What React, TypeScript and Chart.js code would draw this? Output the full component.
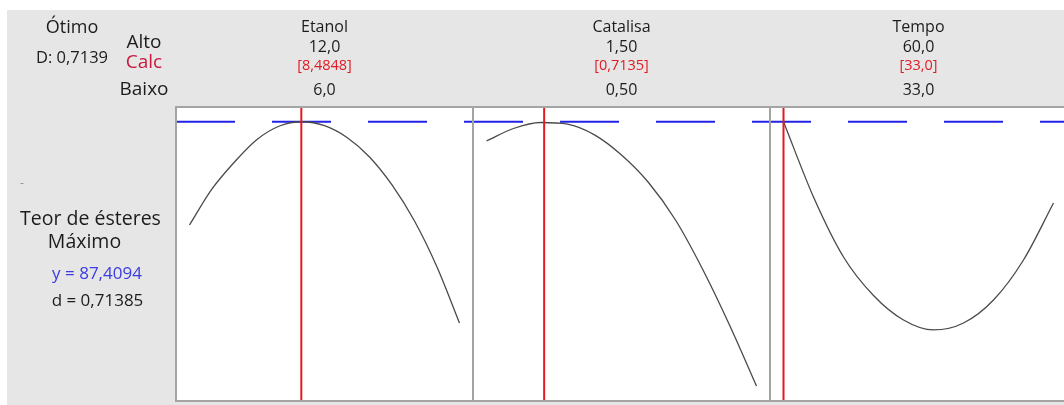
import { useEffect, useRef } from "react";
import { Chart, registerables } from "chart.js";

Chart.register(...registerables);

// Factor headers (high / optimal / low settings)
const factorNames = ["Etanol", "Catalisa", "Tempo"];
const highLabels = ["12,0", "1,50", "60,0"];
const calcLabels = ["[8,4848]", "[0,7135]", "[33,0]"];
const lowLabels = ["6,0", "0,50", "33,0"];
const factorLow = [6, 0.5, 33];
const factorHigh = [12, 1.5, 60];
const optimalSettings = [8.4848, 0.7135, 33.0];

// Predicted response along each factor, others held at their optimal setting
const etanolX = [6.0, 6.5, 7.0, 7.5, 8.0, 8.5, 9.0, 9.5, 10.0, 10.5, 11.0, 11.5, 12.0];
const etanolY = [68.82, 75.3, 80.16, 84.21, 86.64, 87.4, 86.69, 84.57, 81.06, 76.02, 69.54, 61.26, 51.17];

const catalisaX = [0.5, 0.6, 0.7, 0.8, 0.9, 1.0, 1.1, 1.2, 1.3, 1.4, 1.5];
const catalisaY = [83.94, 86.19, 87.27, 86.99, 85.05, 81.42, 76.47, 69.72, 60.9, 50.82, 39.84];

const tempoX = [33, 36, 39, 42, 45, 48, 51, 54, 57, 60];
const tempoY = [87.41, 73.86, 63.06, 56.13, 51.72, 49.92, 51.18, 55.32, 62.52, 72.78];

const responseName = ["Teor de ésteres", "Máximo"];
const predictedY = 87.4094;
const desirability = 0.71385;
const compositeD = 0.7139;
const responseMin = 37.13;
const responseMax = 90.06;

const fmt = (v: number, digits: number) => v.toFixed(digits).replace(".", ",");

const FONT = "'Open Sans', 'Noto Sans', sans-serif";
const TEXT = "#1c1c1c";
const RED = "#e01b24";

export default function App() {
  const canvasRef = useRef<HTMLCanvasElement | null>(null);

  useEffect(() => {
    const canvas = canvasRef.current;
    if (!canvas) return;

    const curves = [
      { xs: etanolX, ys: etanolY },
      { xs: catalisaX, ys: catalisaY },
      { xs: tempoX, ys: tempoY },
    ];

    const datasets: any[] = [];
    curves.forEach((c, i) => {
      datasets.push({
        label: factorNames[i],
        data: c.xs.map((x, k) => ({ x, y: c.ys[k] })),
        xAxisID: "x" + i,
        yAxisID: "y",
        borderColor: "#4a4a4a",
        borderWidth: 1.3,
        pointRadius: 0,
        cubicInterpolationMode: "monotone",
        order: 1,
      });
    });
    optimalSettings.forEach((v, i) => {
      datasets.push({
        label: "opt" + i,
        data: [
          { x: v, y: responseMin },
          { x: v, y: responseMax },
        ],
        xAxisID: "x" + i,
        yAxisID: "y",
        borderColor: RED,
        borderWidth: 2,
        pointRadius: 0,
        order: 0,
      });
    });

    const scales: any = {
      y: {
        type: "linear",
        position: "left",
        display: false,
        min: responseMin,
        max: responseMax,
      },
    };
    factorLow.forEach((lo, i) => {
      const pad = (factorHigh[i] - lo) * 0.05;
      scales["x" + i] = {
        type: "linear",
        position: "bottom",
        stack: "factors",
        stackWeight: 1,
        display: false,
        min: lo - pad,
        max: factorHigh[i] + pad,
      };
    });

    const backdrop = {
      id: "backdrop",
      beforeDraw(chart: any) {
        const { ctx, chartArea } = chart;
        ctx.save();
        ctx.fillStyle = "#e6e6e6";
        ctx.fillRect(0, 0, chart.width, chart.height);
        ctx.fillStyle = "#ffffff";
        ctx.fillRect(chartArea.left, chartArea.top, chartArea.right - chartArea.left, chartArea.bottom - chartArea.top);
        ctx.restore();
      },
      beforeDatasetsDraw(chart: any) {
        // predicted response: dashed reference across all panels
        const { ctx, chartArea } = chart;
        const y = chart.scales.y.getPixelForValue(predictedY);
        ctx.save();
        ctx.strokeStyle = "#2222e6";
        ctx.lineWidth = 2;
        ctx.setLineDash([59, 37]);
        ctx.beginPath();
        ctx.moveTo(chartArea.left, y);
        ctx.lineTo(chartArea.right, y);
        ctx.stroke();
        ctx.restore();
      },
      afterDatasetsDraw(chart: any) {
        const { ctx, chartArea } = chart;
        ctx.save();
        ctx.strokeStyle = "#a4a4a4";
        ctx.lineWidth = 2;
        for (let i = 0; i < 3; i++) {
          const s = chart.scales["x" + i];
          ctx.strokeRect(s.left, chartArea.top, s.right - s.left, chartArea.bottom - chartArea.top);
        }
        ctx.restore();
      },
      afterDraw(chart: any) {
        const { ctx, chartArea } = chart;
        const top = chartArea.top;
        const put = (t: string, x: number, y: number, size: number, color: string) => {
          ctx.font = `${size}px ${FONT}`;
          ctx.fillStyle = color;
          ctx.textAlign = "center";
          ctx.textBaseline = "alphabetic";
          ctx.fillText(t, x, y);
        };
        ctx.save();
        // column headers
        for (let i = 0; i < 3; i++) {
          const s = chart.scales["x" + i];
          const cx = (s.left + s.right) / 2;
          put(factorNames[i], cx, top - 75, 16, TEXT);
          put(highLabels[i], cx, top - 55, 16, TEXT);
          put(calcLabels[i], cx, top - 37, 14.5, RED);
          put(lowLabels[i], cx, top - 12, 16, TEXT);
        }
        // row captions
        put("Ótimo", 65, top - 74, 18, TEXT);
        put("D: " + fmt(compositeD, 4), 65, top - 44, 16.5, TEXT);
        put("Alto", 137, top - 59, 19, TEXT);
        put("Calc", 137, top - 39, 19, "#c8183c");
        put("Baixo", 137, top - 12, 19, TEXT);
        // response block
        put("-", 15, top + 80, 12, "#909090");
        put(responseName[0], 83.5, top + 118, 19.5, TEXT);
        put(responseName[1], 77.5, top + 141, 19.5, TEXT);
        put("y = " + fmt(predictedY, 4), 90, top + 172, 17, "#3b3be0");
        put("d = " + fmt(desirability, 5), 90.5, top + 199, 17, TEXT);
        ctx.restore();
      },
    };

    const chart = new Chart(canvas, {
      type: "line",
      data: { datasets },
      options: {
        responsive: false,
        animation: false,
        devicePixelRatio: 1,
        parsing: true,
        layout: { padding: { left: 169, top: 97, right: 2, bottom: 4 } },
        plugins: {
          legend: { display: false },
          tooltip: { enabled: false },
          title: { display: false },
        },
        scales,
      } as any,
      plugins: [backdrop],
    });

    return () => chart.destroy();
  }, []);

  return (
    <div
      style={{
        position: "absolute",
        left: 7,
        top: 10,
        width: 1057,
        height: 395,
        overflow: "hidden",
      }}
    >
      <canvas ref={canvasRef} width={1062} height={395} style={{ display: "block" }} />
    </div>
  );
}
